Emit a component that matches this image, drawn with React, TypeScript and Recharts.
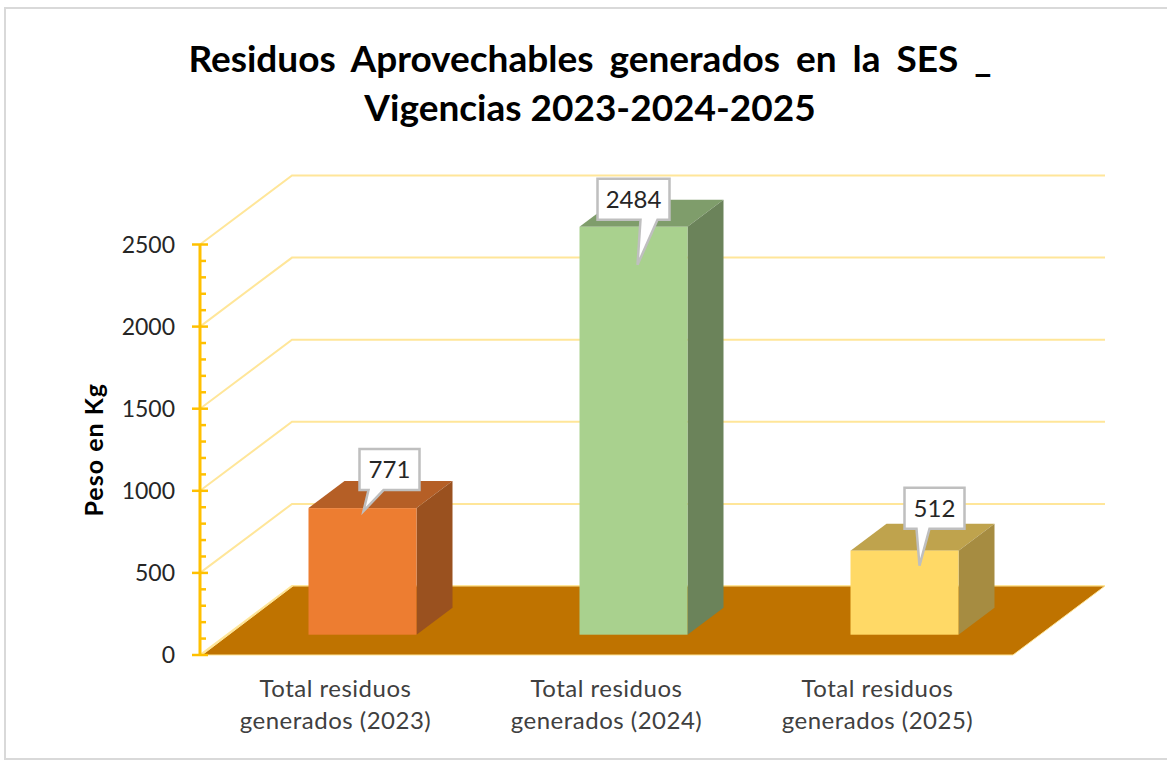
import { BarChart, Bar, XAxis, YAxis, CartesianGrid, ReferenceArea, LabelList } from 'recharts';

const FONT = 'Lato, Carlito, sans-serif';

// Values
const categories = ['Total residuos generados (2023)', 'Total residuos generados (2024)', 'Total residuos generados (2025)'];
const pesoKg = [771, 2484, 512];
const yTicks = [0, 100, 200, 300, 400, 500, 600, 700, 800, 900, 1000, 1100, 1200, 1300, 1400, 1500, 1600, 1700, 1800, 1900, 2000, 2100, 2200, 2300, 2400, 2500];
const gridValues = [0, 500, 1000, 1500, 2000, 2500];

const frontColors = ['#ED7D31', '#A9D18E', '#FFD966'];
const topColors = ['#B55F26', '#7F9D6B', '#BFA34D'];
const sideColors = ['#9A511F', '#6B835A', '#A68C41'];

const data = categories.map((name, i) => ({ name, peso: pesoKg[i] }));

// the 3D projection of the Excel chart
const AXIS_X = 200;
const BAR_SHIFT_X = 26.5;
const BAR_SHIFT_Y = -20.3;
const BAR_DX = 36;
const BAR_DY = -27;
const WALL_DX = 92;
const WALL_DY = -69;
const WALL_END = 1105;

// callouts were hand placed in the original: box and tail relative to the bar top centre
const callouts = [
  { left: -3, width: 60, top: -59, height: 41, tailA: 9, tailB: 24, tipX: 1, tipY: 3 },
  { left: -36, width: 72, top: -48, height: 41, tailA: 43, tailB: 60, tipX: 4, tipY: 38 },
  { left: 0, width: 60, top: -63, height: 41, tailA: 12, tailB: 25, tipX: 15, tipY: 15 },
];

function GridLine(props: any) {
  const { x1, y1 } = props;
  return (
    <path
      d={`M${x1},${y1} L${x1 + WALL_DX},${y1 + WALL_DY} L${WALL_END},${y1 + WALL_DY}`}
      fill="none"
      stroke="#FFE699"
      strokeWidth={2}
    />
  );
}

function Floor(props: any) {
  const { x, y, width, height } = props;
  const base = y + height;
  const right = x + width;
  const pts = [
    [x + 2, base],
    [x + 93, base + WALL_DY],
    [WALL_END, base + WALL_DY],
    [right, base],
  ];
  return <polygon points={pts.map((p) => p.join(',')).join(' ')} fill="#BF7300" stroke="#FFE699" strokeWidth={1} />;
}

function Bar3D(props: any) {
  const { x, y, width, height, index } = props;
  const l = x + BAR_SHIFT_X;
  const t = y + BAR_SHIFT_Y;
  const r = l + width;
  const b = t + height;
  return (
    <g>
      <polygon
        points={`${l},${t} ${l + BAR_DX},${t + BAR_DY} ${r + BAR_DX},${t + BAR_DY} ${r},${t}`}
        fill={topColors[index]}
      />
      <polygon
        points={`${r},${t} ${r + BAR_DX},${t + BAR_DY} ${r + BAR_DX},${b + BAR_DY} ${r},${b}`}
        fill={sideColors[index]}
      />
      <rect x={l} y={t} width={width} height={height} fill={frontColors[index]} />
    </g>
  );
}

function Callout(props: any) {
  const { x, y, width, value, index } = props;
  const c = callouts[index];
  const cx = x + BAR_SHIFT_X + width / 2;
  const cy = y + BAR_SHIFT_Y;
  const l = cx + c.left;
  const t = cy + c.top;
  const b = t + c.height;
  const d = `M${l},${t} H${l + c.width} V${b} H${l + c.tailB} L${cx + c.tipX},${cy + c.tipY} L${l + c.tailA},${b} H${l} Z`;
  return (
    <g>
      <path d={d} fill="#FFFFFF" stroke="#BFBFBF" strokeWidth={2.5} />
      <text x={l + c.width / 2} y={t + 29} textAnchor="middle" fontFamily={FONT} fontSize={24} fill="#262626">
        {value}
      </text>
    </g>
  );
}

function YTick(props: any) {
  const { y, payload } = props;
  const major = payload.value % 500 === 0;
  return (
    <g>
      <line
        x1={major ? AXIS_X - 8 : AXIS_X}
        x2={major ? AXIS_X + 8 : AXIS_X + 6}
        y1={y}
        y2={y}
        stroke="#FFC000"
        strokeWidth={2.5}
      />
      {major && (
        <text x={175} y={y + 8} textAnchor="end" fontFamily={FONT} fontSize={23} fill="#262626">
          {payload.value}
        </text>
      )}
    </g>
  );
}

function XTick(props: any) {
  const { x, payload } = props;
  const words = payload.value.split(' ');
  return (
    <text textAnchor="middle" fontFamily={FONT} fontSize={24} letterSpacing={0.5} fill="#404040">
      <tspan x={x} y={697}>{words.slice(0, 2).join(' ')}</tspan>
      <tspan x={x} y={729}>{words.slice(2).join(' ')}</tspan>
    </text>
  );
}

function YTitle(props: any) {
  const { viewBox } = props;
  const cy = viewBox.y + viewBox.height / 2;
  return (
    <text
      x={103}
      y={cy}
      transform={`rotate(-90 103 ${cy})`}
      textAnchor="middle"
      fontFamily={FONT}
      fontWeight={700}
      fontSize={25}
      letterSpacing={1}
      fill="#000000"
    >
      Peso en Kg
    </text>
  );
}

const titleLine = {
  position: 'absolute',
  left: 0,
  width: 1180,
  textAlign: 'center',
  fontFamily: FONT,
  fontWeight: 700,
  fontSize: 37,
  lineHeight: '50px',
  color: '#000000',
  whiteSpace: 'nowrap',
} as const;

export default function App() {
  return (
    <div style={{ position: 'absolute', left: 0, top: 0, width: 1167, height: 760, overflow: 'hidden', background: '#FFFFFF' }}>
      <div style={{ position: 'absolute', left: 4, top: 7, width: 1180, height: 749, border: '2px solid #D9D9D9' }} />
      <div style={{ ...titleLine, top: 33, wordSpacing: 7 }}>Residuos Aprovechables generados en la SES _</div>
      <div style={{ ...titleLine, top: 82 }}>Vigencias 2023-2024-2025</div>
      <div style={{ position: 'absolute', left: 0, top: 0 }}>
        <BarChart width={1167} height={760} data={data} margin={{ top: 244.5, right: 154, bottom: 0, left: 0 }}>
          <CartesianGrid vertical={false} horizontal={GridLine} horizontalValues={gridValues} />
          <XAxis dataKey="name" height={105} axisLine={false} tickLine={false} interval={0} tick={XTick} />
          <YAxis
            width={200}
            domain={[0, 2500]}
            ticks={yTicks}
            interval={0}
            tickLine={false}
            axisLine={{ stroke: '#FFC000', strokeWidth: 3 }}
            tick={YTick}
            label={<YTitle />}
          />
          <ReferenceArea y1={0} y2={100} shape={Floor} />
          <Bar dataKey="peso" barSize={108} shape={Bar3D} isAnimationActive={false}>
            <LabelList dataKey="peso" content={Callout} />
          </Bar>
        </BarChart>
      </div>
    </div>
  );
}
